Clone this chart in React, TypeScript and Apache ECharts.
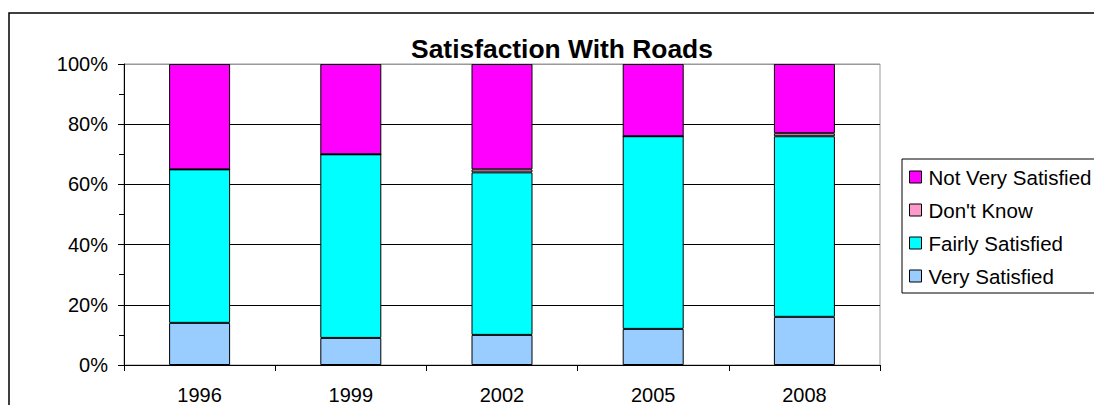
import React, { useEffect, useRef } from "react";
import * as echarts from "echarts";

const years = ["1996", "1999", "2002", "2005", "2008"];
const verySatisfied = [14, 9, 10, 12, 16];
const fairlySatisfied = [51, 61, 54, 64, 60];
const dontKnow = [0, 0, 1, 0, 1];
const notVerySatisfied = [35, 30, 35, 24, 23];
const legendOrder = ["Not Very Satisfied", "Don't Know", "Fairly Satisfied", "Very Satisfied"];

const FONT = "Liberation Sans, Arial, sans-serif";

export default function App() {
  const ref = useRef<HTMLDivElement>(null);

  useEffect(() => {
    if (!ref.current) return;
    const chart = echarts.init(ref.current, null, { renderer: "svg" });

    const bar = (name: string, data: number[], color: string) => ({
      name,
      type: "bar",
      stack: "total",
      data,
      barWidth: 61,
      itemStyle: { color, borderColor: "#000", borderWidth: 1 },
    });

    chart.setOption({
      animation: false,
      backgroundColor: "#fff",
      textStyle: { fontFamily: FONT },
      title: {
        text: "Satisfaction With Roads",
        left: 557,
        top: 31,
        textAlign: "center",
        textStyle: { fontFamily: FONT, fontSize: 26.4, fontWeight: "bold", color: "#000" },
      },
      graphic: [
        {
          type: "rect",
          shape: { x: 9, y: 13, width: 1200, height: 500 },
          style: { fill: "none", stroke: "#000", lineWidth: 1.5 },
          silent: true,
        },
        {
          type: "rect",
          shape: { x: 902, y: 159, width: 300, height: 134 },
          style: { fill: "#fff", stroke: "#000", lineWidth: 1 },
          silent: true,
          z: -1,
        },
      ],
      legend: {
        data: legendOrder,
        orient: "vertical",
        left: 909,
        top: 166,
        padding: 0,
        itemWidth: 12,
        itemHeight: 12,
        itemGap: 11,
        icon: "rect",
        textStyle: { fontFamily: FONT, fontSize: 20.5, color: "#000", lineHeight: 22, padding: [0, 0, 0, 2] },
        itemStyle: { borderColor: "#000", borderWidth: 1 },
        selectedMode: false,
      },
      grid: {
        left: 124,
        top: 64,
        right: 214,
        bottom: 40,
        show: true,
        borderColor: "#999",
        borderWidth: 1,
        backgroundColor: "#fff",
      },
      xAxis: {
        type: "category",
        data: years,
        axisLine: { lineStyle: { color: "#000", width: 1 } },
        axisTick: { show: true, interval: 0, alignWithLabel: false, length: 6, lineStyle: { color: "#000" } },
        axisLabel: { fontFamily: FONT, fontSize: 20, color: "#000", margin: 20 },
        splitLine: { show: false },
      },
      yAxis: {
        type: "value",
        min: 0,
        max: 100,
        interval: 20,
        axisLine: { show: true, lineStyle: { color: "#000", width: 1 } },
        axisTick: { show: true, length: 6, lineStyle: { color: "#000" } },
        minorTick: { show: true, splitNumber: 2, length: 5, lineStyle: { color: "#000" } },
        axisLabel: { fontFamily: FONT, fontSize: 20, color: "#000", margin: 16, formatter: "{value}%" },
        splitLine: {
          show: true,
          lineStyle: { color: ["#000", "#000", "#000", "#000", "#000", "#999"], width: 1 },
        },
      },
      series: [
        bar("Very Satisfied", verySatisfied, "#99CCFF"),
        bar("Fairly Satisfied", fairlySatisfied, "#00FFFF"),
        bar("Don't Know", dontKnow, "#FF99CC"),
        bar("Not Very Satisfied", notVerySatisfied, "#FF00FF"),
      ],
    });

    return () => chart.dispose();
  }, []);

  return (
    <div
      ref={ref}
      style={{ position: "fixed", left: 0, top: 0, width: 1094, height: 405 }}
    />
  );
}
